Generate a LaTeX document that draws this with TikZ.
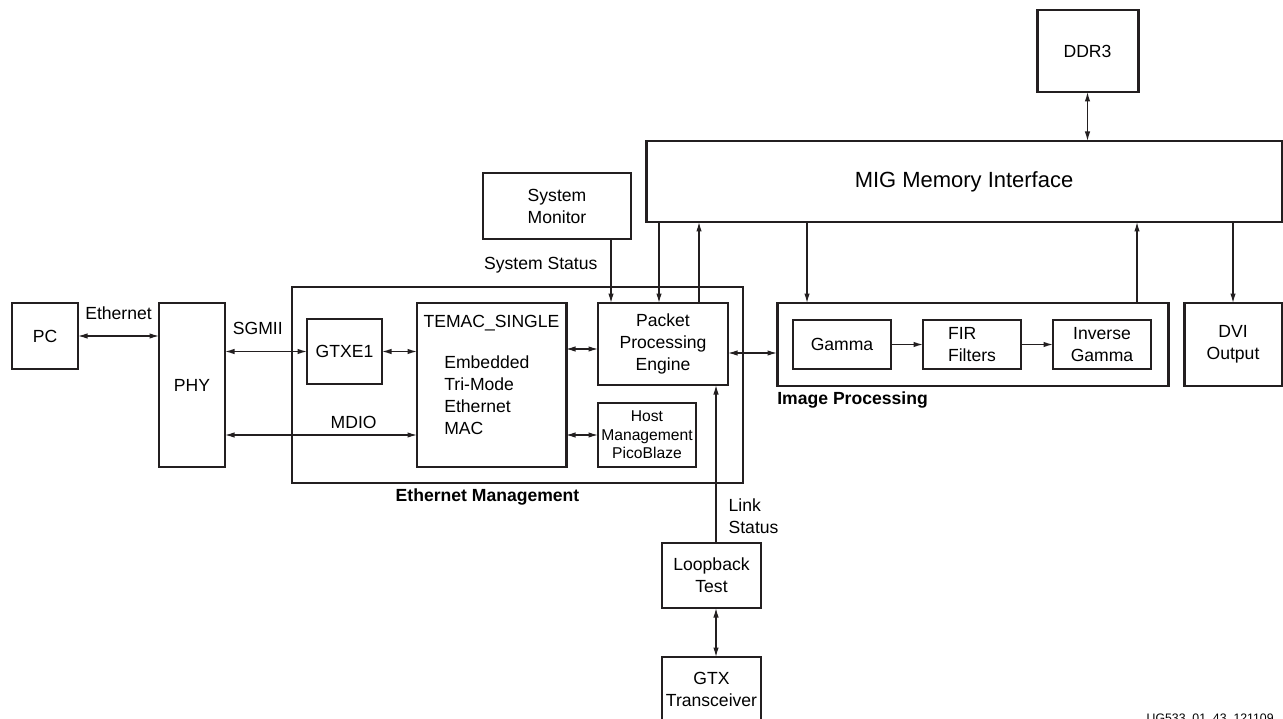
\documentclass[tikz,border=0pt]{standalone}
\usepackage{fontspec}
\setmainfont{Liberation Sans}
\usetikzlibrary{arrows.meta, positioning, fit, calc}
\definecolor{linegray}{RGB}{35,31,32}

\begin{document}
\begin{tikzpicture}[
    font=\fontsize{10}{12.5}\selectfont,
    >={Latex[length=1.9mm, width=1.1mm]},
    block/.style={rectangle, draw=linegray, line width=0.7pt, outer sep=0pt, align=center, inner sep=1pt},
    heavy/.style={rectangle, draw=linegray, line width=1.7pt, outer sep=0pt, align=center, inner sep=1pt},
    caption/.style={font=\fontsize{10}{12}\selectfont\bfseries, inner sep=0pt},
    tag/.style={inner sep=0pt, align=left},
    arrow/.style={->, line width=0.7pt, draw=linegray},
    biarrow/.style={<->, line width=0.7pt, draw=linegray},
]
    % Page frame
    \coordinate (origin) at (0,0);
    \coordinate (corner) at (25.66,-14.38);
    \useasboundingbox (origin) rectangle (corner);

    % Host side
    \node[block, minimum width=1.32cm, minimum height=1.32cm, anchor=north west] (pc) at (0.24,-6.06) {PC};
    \node[block, minimum width=1.32cm, minimum height=3.28cm, right=1.62cm of pc.north east, anchor=north west] (phy) {PHY};

    % Ethernet management
    \node[heavy, minimum width=2.98cm, minimum height=3.28cm, right=3.84cm of phy.north east, anchor=north west] (temac) {};
    \node[tag, anchor=north] (temacname) at ([yshift=-0.23cm]temac.north) {TEMAC\_SINGLE};
    \node[tag, anchor=north west] (temacdesc) at ([xshift=0.54cm, yshift=-1.05cm]temac.north west) {Embedded\\Tri-Mode\\Ethernet\\MAC};
    \node[block, minimum width=1.5cm, minimum height=1.3cm, left=0.7cm of temac.north west, anchor=north east, yshift=-0.32cm] (gtxe) {GTXE1};
    \node[block, minimum width=2.6cm, minimum height=1.64cm, right=0.64cm of temac.north east, anchor=north west] (ppe) {Packet\\Processing\\Engine};
    \node[block, minimum width=1.96cm, minimum height=1.28cm, right=0.64cm of temac.south east, anchor=south west, font=\fontsize{8.9}{10.5}\selectfont] (host) {Host\\Management\\PicoBlaze};
    \node[draw=linegray, line width=0.7pt, inner xsep=0.3cm, inner ysep=0.32cm, fit=(gtxe)(temac)(ppe)(host)] (ethmgmt) {};
    \node[caption, below=0.09cm of ethmgmt.south, xshift=-0.6cm] (ethtitle) {Ethernet Management};

    % Image processing
    \node[heavy, minimum width=7.82cm, minimum height=1.66cm, right=0.98cm of ppe.north east, anchor=north west] (imgproc) {};
    \node[block, minimum width=1.96cm, minimum height=0.98cm, right=0.32cm of imgproc.west] (gamma) {Gamma};
    \node[block, minimum width=1.96cm, minimum height=0.98cm, right=0.64cm of gamma, align=left] (fir) {FIR\\Filters};
    \node[block, minimum width=1.96cm, minimum height=0.98cm, right=0.64cm of fir] (invgamma) {Inverse\\Gamma};
    \node[caption, below=0.1cm of imgproc.south west, anchor=north west] (imgtitle) {Image Processing};
    \node[heavy, minimum width=1.96cm, minimum height=1.66cm, right=0.32cm of imgproc.north east, anchor=north west] (dvi) {DVI\\Output};

    % Memory
    \node[heavy, minimum width=12.72cm, minimum height=1.62cm, above=1.62cm of imgproc.north west, anchor=south west, xshift=-2.62cm, font=\fontsize{12.5}{15}\selectfont] (mig) {MIG Memory Interface};
    \node[heavy, minimum width=2.02cm, minimum height=1.64cm, above=0.98cm of mig, xshift=2.47cm] (ddr) {DDR3};

    % Monitoring and test
    \node[block, minimum width=2.96cm, minimum height=1.32cm, above=1.28cm of ppe.north west, anchor=south east, xshift=0.66cm] (sysmon) {System\\Monitor};
    \node[block, minimum width=1.98cm, minimum height=1.3cm, below=1.52cm of host.south east, anchor=north west, xshift=-0.68cm] (loop) {Loopback\\Test};
    \node[block, minimum width=1.98cm, minimum height=1.3cm, below=0.98cm of loop] (gtxt) {GTX\\Transceiver};

    % Figure number
    \node[anchor=base east, inner sep=0pt, font=\fontsize{7}{8}\selectfont] (figid) at ([xshift=-0.18cm, yshift=-0.06cm]corner) {UG533\_01\_43\_121109};

    % Arrows: host side
    \draw[biarrow] (pc.east) -- (pc.east -| phy.west) node[tag, midway, above=0.32cm] (ethlbl) {Ethernet};
    \draw[biarrow] (gtxe.west -| phy.east) -- (gtxe.west) node[tag, pos=0.4, above=0.32cm] (sgmiilbl) {SGMII};
    \draw[biarrow] (host.west -| phy.east) -- (host.west -| temac.west) node[tag, pos=0.67, above=0.11cm] (mdiolbl) {MDIO};

    % Arrows: inside ethernet management
    \draw[biarrow] (gtxe.east) -- (gtxe.east -| temac.west);
    \draw[biarrow] ([yshift=-0.1cm]ppe.west -| temac.east) -- ([yshift=-0.1cm]ppe.west);
    \draw[biarrow] (host.west -| temac.east) -- (host.west);
    \draw[biarrow] ([yshift=-0.18cm]ppe.east) -- ([yshift=-0.18cm]ppe.east -| imgproc.west);

    % Arrows: image pipeline
    \draw[arrow] (gamma) -- (fir);
    \draw[arrow] (fir) -- (invgamma);

    % Arrows: memory
    \draw[biarrow] (ddr.south) -- (ddr.south |- mig.north);
    \draw[arrow] ([xshift=0.26cm]mig.south west) -- ([xshift=0.26cm]mig.south west |- ppe.north);
    \draw[arrow] ([xshift=-0.58cm]ppe.north east) -- ([xshift=-0.58cm]ppe.north east |- mig.south);
    \draw[arrow] ([xshift=0.6cm]imgproc.north west |- mig.south) -- ([xshift=0.6cm]imgproc.north west);
    \draw[arrow] ([xshift=-0.62cm]imgproc.north east) -- ([xshift=-0.62cm]imgproc.north east |- mig.south);
    \draw[arrow] (dvi.north |- mig.south) -- (dvi.north);

    % Arrows: status
    \draw[arrow] ([xshift=-0.4cm]sysmon.south east) -- ([xshift=-0.4cm]sysmon.south east |- ppe.north) node[tag, pos=0.41, left=0.26cm] (syslbl) {System Status};
    \draw[arrow] ([xshift=0.09cm]loop.north) -- ([xshift=0.09cm]loop.north |- ppe.south) node[tag, pos=0.17, right=0.24cm] (linklbl) {Link\\Status};
    \draw[biarrow] ([xshift=0.09cm]loop.south) -- ([xshift=0.09cm]loop.south |- gtxt.north);

\end{tikzpicture}
\end{document}
